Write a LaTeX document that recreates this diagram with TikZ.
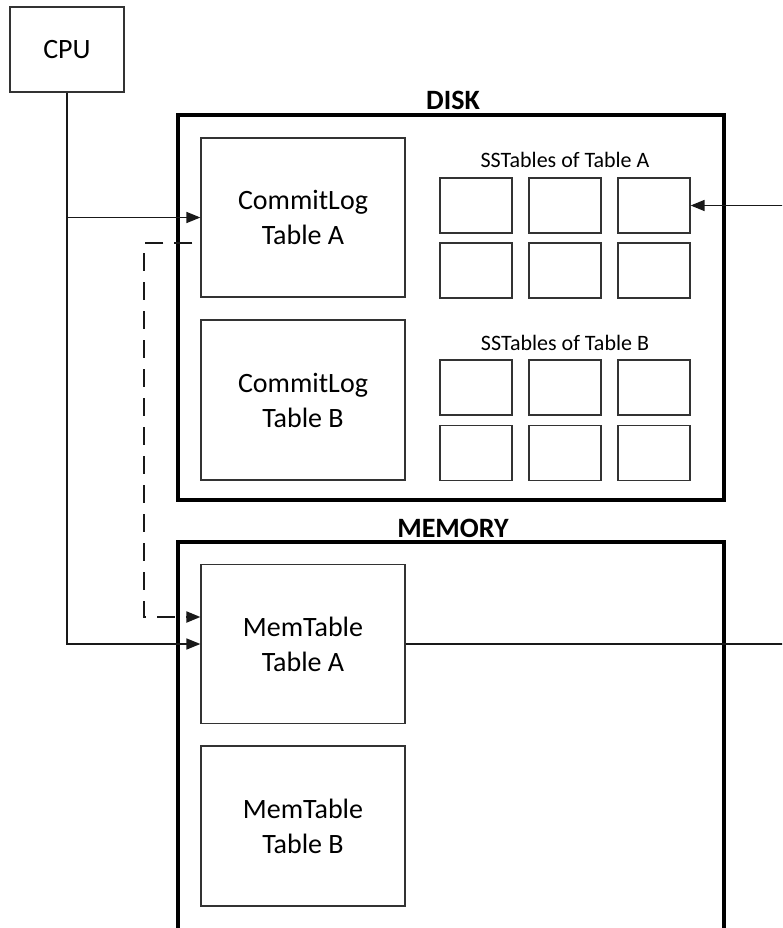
\documentclass[tikz,border=0pt]{standalone}
\usepackage{fontspec}
\setmainfont{Carlito}
\usetikzlibrary{arrows.meta,calc}

\tikzset{
  box/.style={draw=black!80, line width=1.2pt, fill=white, inner sep=0pt,
    align=center, font=\fontsize{28}{35}\selectfont},
  sst/.style={draw=black!80, line width=1.2pt, inner sep=0pt,
    minimum width=72pt, minimum height=55pt},
  store/.style={draw=black, line width=3.4pt, inner sep=0pt},
  title/.style={font=\fontsize{28}{34}\selectfont\bfseries},
  caption/.style={font=\fontsize{22}{26}\selectfont},
  link/.style={line width=1.5pt, draw=black!90},
  tip/.style={-{Triangle[length=14pt,width=11pt]}},
  dashlink/.style={link, line width=2pt, dash pattern=on 18pt off 11pt, dash phase=21pt}
}

\begin{document}
\begin{tikzpicture}[x=1pt, y=-1pt]
  \useasboundingbox (0,0) rectangle (782,928);
  \clip (0,0) rectangle (782,928);

  % storage areas
  \node[store, minimum width=546pt, minimum height=385pt] (disk) at (451,307.5) {};
  \node[store, minimum width=546pt, minimum height=420pt] (mem) at (451,752) {};
  \node[title] (disklbl) at (453,100) {DISK};
  \node[title] (memlbl) at (453,528) {MEMORY};

  % processor
  \node[box, minimum width=114pt, minimum height=85pt] (cpu) at (67,49.5) {CPU};

  % commit logs and memtables
  \node[box, minimum width=204pt, minimum height=159pt] (clA) at (303,217.5) {CommitLog\\Table A};
  \node[box, minimum width=204pt, minimum height=160pt] (clB) at (303,400) {CommitLog\\Table B};
  \node[box, minimum width=204pt, minimum height=159pt] (mtA) at (303,644) {MemTable\\Table A};
  \node[box, minimum width=204pt, minimum height=160pt] (mtB) at (303,826) {MemTable\\Table B};

  % SSTables
  \node[caption] (ssAlbl) at (565,160) {SSTables of Table A};
  \node[caption] (ssBlbl) at (565,343) {SSTables of Table B};
  \foreach \x [count=\i] in {476,565,654} {
    \node[sst] (ssA\i) at (\x,205.5) {};
    \node[sst] (ssA\the\numexpr\i+3\relax) at (\x,270.5) {};
    \node[sst] (ssB\i) at (\x,387.5) {};
    \node[sst] (ssB\the\numexpr\i+3\relax) at (\x,453) {};
  }

  % connectors
  \coordinate (edgeR) at (800,0);
  \draw[link, tip] (cpu.south) |- (mtA.west);
  \draw[link, tip] (cpu.south |- clA.west) -- (clA.west);
  \draw[dashlink, tip] ([yshift=-25.5pt]clA.west) -- ++(-56,0) |- ([yshift=27pt]mtA.west);
  \draw[link] (mtA.east) -- (mtA.east -| edgeR);
  \draw[link, tip] (ssA3.east -| edgeR) -- (ssA3.east);
\end{tikzpicture}
\end{document}
